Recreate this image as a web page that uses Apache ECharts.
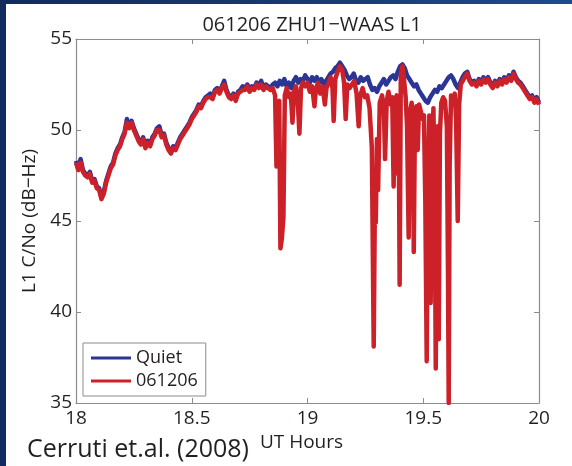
<!DOCTYPE html>
<html>
<head>
<meta charset="utf-8">
<script src="https://cdn.jsdelivr.net/npm/echarts@6/dist/echarts.min.js"></script>
<style>
  html, body { margin: 0; padding: 0; width: 572px; height: 466px; overflow: hidden;
    background: linear-gradient(90deg, #112b5e 0%, #17396f 50%, #1e4c8a 100%); }
  #sheet { position: absolute; left: 6px; top: 4px; right: 0; bottom: 0; background: #fff; }
  #chart { position: absolute; left: 0; top: 0; width: 572px; height: 466px; }
</style>
</head>
<body>
<div id="sheet"></div>
<div id="chart"></div>
<script>
// L1 C/No at ZHU1 for the WAAS satellite, 18-20 UT
const xTicks = [18, 18.5, 19, 19.5, 20];
const yTicks = [35, 40, 45, 50, 55];
const seriesNames = ['Quiet', '061206'];

// quiet-day reference, one sample every 0.01 h from 18.00
const quietStart = 18.0;
const quietValues = [
  48.3, 47.9, 48.4, 47.8, 47.6, 47.5, 47.7, 47.2, 47.3, 46.9,
  46.8, 46.3, 46.6, 47.2, 47.6, 48.0, 48.2, 48.7, 49.0, 49.2,
  49.6, 49.9, 50.6, 50.2, 50.5, 50.1, 49.8, 49.5, 49.3, 49.6,
  49.1, 49.4, 49.2, 49.6, 49.8, 50.1, 50.2, 49.7, 49.8, 49.3,
  49.0, 48.8, 49.1, 49.0, 49.3, 49.6, 49.8, 50.0, 50.2, 50.4,
  50.7, 50.9, 51.1, 51.4, 51.3, 51.6, 51.8, 51.9, 52.0, 51.8,
  52.2, 52.3, 52.1, 52.4, 52.7, 52.2, 51.9, 51.8, 52.0, 51.7,
  52.1, 52.2, 52.4, 52.3, 52.5, 52.2, 52.4, 52.3, 52.6, 52.4,
  52.7, 52.3, 52.5, 52.4, 52.3, 52.5, 52.6, 52.4, 52.7, 52.5,
  52.8, 52.4, 52.6, 52.3, 52.7, 52.9, 52.6, 52.8, 52.7, 53.0,
  52.8, 52.6, 52.9, 52.7, 52.9, 52.6, 52.8, 52.5, 52.7, 52.9,
  53.1, 53.2, 53.4, 53.5, 53.7, 53.5, 53.3, 53.0, 52.8, 52.9,
  53.1, 52.7, 52.6, 52.9, 52.7, 52.8, 52.9, 52.5, 52.2, 52.3,
  52.1, 52.4, 52.6, 52.8, 52.5, 52.7, 52.9, 53.0, 52.8, 53.2,
  53.5, 53.6, 53.4, 53.0, 52.8, 52.6, 52.4, 52.5, 52.2, 52.0,
  51.8, 51.6, 51.5, 51.8, 52.0, 52.2, 52.1, 52.4, 52.3, 52.5,
  52.7, 52.9, 53.0, 52.8, 52.5, 52.3, 52.6, 52.9, 53.1, 53.2,
  52.8, 52.6, 52.7, 52.5, 52.8, 52.6, 52.9, 52.7, 52.9, 52.6,
  52.4, 52.7, 52.5, 52.8, 52.6, 52.9, 52.7, 53.0, 52.8, 53.2,
  52.9, 52.7, 52.6, 52.4, 52.2, 52.0, 51.8, 51.9, 51.6, 51.8,
  51.5
];

// 061206 event day: calm stretch before the fades, 0.01 h steps from 18.00
const stormEarlyStart = 18.0;
const stormEarlyValues = [
  48.2, 47.8, 48.2, 47.7, 47.5, 47.4, 47.6, 47.1, 47.2, 46.8,
  46.7, 46.2, 46.5, 47.1, 47.5, 47.9, 48.1, 48.6, 48.9, 49.1,
  49.5, 49.8, 50.4, 50.1, 50.4, 50.0, 49.7, 49.4, 49.2, 49.5,
  49.0, 49.3, 49.1, 49.5, 49.7, 50.0, 50.0, 49.6, 49.7, 49.2,
  48.9, 48.7, 49.0, 48.9, 49.2, 49.5, 49.7, 49.9, 50.1, 50.3,
  50.6, 50.8, 51.0, 51.3, 51.2, 51.5, 51.7, 51.8, 51.8, 51.7,
  52.1, 52.2, 52.0, 52.3, 52.5, 52.1, 51.8, 51.7, 51.9, 51.6,
  52.0, 52.1, 52.2, 52.2, 52.4, 52.1, 52.3, 52.2, 52.5, 52.3,
  52.5, 52.2, 52.4, 52.3, 52.2
];

// scintillation fades, sampled where the signal drops
const stormFadeHours = [
  18.850, 18.860, 18.866, 18.872, 18.878, 18.883, 18.889, 18.896, 18.902, 18.910,
  18.920, 18.928, 18.935, 18.942, 18.950, 18.958, 18.965, 18.972, 18.980, 18.990,
  19.000, 19.010, 19.020, 19.030, 19.036, 19.045, 19.055, 19.065, 19.075, 19.082,
  19.092, 19.100, 19.108, 19.113, 19.120, 19.130, 19.140, 19.150, 19.158, 19.165,
  19.172, 19.182, 19.192, 19.202, 19.212, 19.221, 19.228, 19.238, 19.248, 19.258,
  19.268, 19.278, 19.286, 19.291, 19.295, 19.300, 19.305, 19.312, 19.322, 19.330,
  19.335, 19.342, 19.350, 19.360, 19.366, 19.372, 19.378, 19.385, 19.390, 19.394,
  19.398, 19.403, 19.410, 19.416, 19.424, 19.430, 19.437, 19.443, 19.450, 19.456,
  19.459, 19.464, 19.470, 19.476, 19.482, 19.490, 19.497, 19.503, 19.509, 19.515,
  19.520, 19.526, 19.532, 19.538, 19.544, 19.550, 19.554, 19.559, 19.563, 19.567,
  19.572, 19.578, 19.586, 19.594, 19.602, 19.607, 19.610, 19.614, 19.620, 19.628,
  19.636, 19.642, 19.649, 19.655, 19.662, 19.670, 19.680
];
const stormFadeValues = [
  52.3, 51.9, 48.0, 51.2, 51.6, 43.5, 44.0, 45.2, 51.9, 52.3,
  51.8, 52.0, 50.4, 52.1, 52.4, 51.6, 49.8, 52.3, 52.6, 52.4,
  52.6, 52.1, 52.4, 51.3, 52.2, 52.6, 52.0, 52.4, 51.4, 52.3,
  52.6, 52.9, 52.3, 50.5, 52.8, 53.2, 53.5, 53.3, 52.6, 50.6,
  52.5, 52.3, 52.5, 52.7, 52.0, 50.2, 51.9, 52.3, 51.8, 51.9,
  51.2, 49.0, 38.1, 46.0, 44.9, 49.5, 46.7, 51.5, 51.9, 51.2,
  48.4, 51.6, 52.1, 51.4, 51.8, 46.9, 51.6, 51.9, 47.6, 50.8,
  41.5, 53.0, 53.5, 52.9, 51.8, 50.2, 44.1, 51.0, 51.5, 49.5,
  43.3, 50.5, 51.3, 48.9, 51.4, 51.0, 50.6, 50.8, 46.0, 37.3,
  46.5, 50.8, 40.5, 49.0, 51.2, 46.0, 36.9, 47.5, 50.2, 38.5,
  49.8, 51.5, 51.8, 51.6, 50.2, 42.0, 35.0, 48.0, 51.9, 51.6,
  52.0, 50.5, 45.0, 51.4, 52.5, 52.6, 52.9
];

// recovery after the fades, 0.01 h steps from 19.69
const stormLateStart = 19.69;
const stormLateValues = [
  53.1,
  52.7, 52.5, 52.6, 52.4, 52.7, 52.5, 52.8, 52.6, 52.8, 52.5,
  52.3, 52.6, 52.4, 52.7, 52.5, 52.8, 52.6, 52.9, 52.7, 53.1,
  52.8, 52.6, 52.5, 52.3, 52.1, 51.9, 51.7, 51.8, 51.5, 51.7,
  51.4
];

const hourAt = (start, i) => +(start + i * 0.01).toFixed(2);

const quietData = quietValues.map((v, i) => [hourAt(quietStart, i), v]);
const stormData = []
  .concat(stormEarlyValues.map((v, i) => [hourAt(stormEarlyStart, i), v]))
  .concat(stormFadeHours.map((h, i) => [h, stormFadeValues[i]]))
  .concat(stormLateValues.map((v, i) => [hourAt(stormLateStart, i), v]));

const FONT = '"Open Sans", "DejaVu Sans", sans-serif';
const INK = '#231f20';
const FRAME = '#8c8c8c';

const tickSide = (extra) => Object.assign({
  axisLine: { show: true, onZero: false, lineStyle: { color: FRAME, width: 1.2 } },
  axisTick: { show: true, inside: true, length: 5, lineStyle: { color: FRAME, width: 1 } },
  splitLine: { show: false }
}, extra);

const chart = echarts.init(document.getElementById('chart'), null, { renderer: 'canvas' });
chart.setOption({
  animation: false,
  backgroundColor: 'transparent',
  title: [
    {
      text: '061206 ZHU1\u2212WAAS L1',
      left: 307, top: 10, textAlign: 'center',
      textStyle: { fontFamily: FONT, fontSize: 20, fontWeight: 'normal', color: INK }
    },
    {
      text: 'Cerruti et.al. (2008)',
      left: 22, top: 432,
      textStyle: { fontFamily: FONT, fontSize: 25, fontWeight: 'normal', color: INK }
    }
  ],
  legend: {
    data: seriesNames,
    orient: 'vertical',
    left: 83, top: 343,
    icon: 'rect',
    itemWidth: 40, itemHeight: 3, itemGap: 5,
    backgroundColor: '#fff',
    borderColor: FRAME, borderWidth: 1,
    padding: [6, 8, 6, 8],
    textStyle: { fontFamily: FONT, fontSize: 18, color: INK }
  },
  grid: { left: 76, right: 33, top: 39, bottom: 63, containLabel: false },
  xAxis: [
    tickSide({
      type: 'value', min: xTicks[0], max: xTicks[xTicks.length - 1], interval: 0.5,
      position: 'bottom',
      axisLabel: { fontFamily: FONT, fontSize: 19, color: INK, margin: 6 },
      name: 'UT Hours', nameLocation: 'middle', nameGap: 23,
      nameTextStyle: { fontFamily: FONT, fontSize: 19, color: INK, padding: [0, 12, 0, 0] }
    }),
    tickSide({
      type: 'value', min: xTicks[0], max: xTicks[xTicks.length - 1], interval: 0.5,
      position: 'top', axisLabel: { show: false }
    })
  ],
  yAxis: [
    tickSide({
      type: 'value', min: yTicks[0], max: yTicks[yTicks.length - 1], interval: 5,
      position: 'left',
      axisLabel: { fontFamily: FONT, fontSize: 19, color: INK, margin: 4 },
      name: 'L1 C/No (dB\u2212Hz)', nameLocation: 'middle', nameGap: 32, nameRotate: 90,
      nameTextStyle: { fontFamily: FONT, fontSize: 19, color: INK }
    }),
    tickSide({
      type: 'value', min: yTicks[0], max: yTicks[yTicks.length - 1], interval: 5,
      position: 'right', axisLabel: { show: false }
    })
  ],
  series: [
    {
      name: seriesNames[0], type: 'line', data: quietData,
      showSymbol: false, symbol: 'none', clip: true,
      lineStyle: { color: '#2b3594', width: 4.5, join: 'round' },
      itemStyle: { color: '#2b3594' }, z: 2
    },
    {
      name: seriesNames[1], type: 'line', data: stormData,
      showSymbol: false, symbol: 'none', clip: true,
      lineStyle: { color: '#cc2128', width: 4.5, join: 'round' },
      itemStyle: { color: '#cc2128' }, z: 3
    }
  ]
});
</script>
</body>
</html>
